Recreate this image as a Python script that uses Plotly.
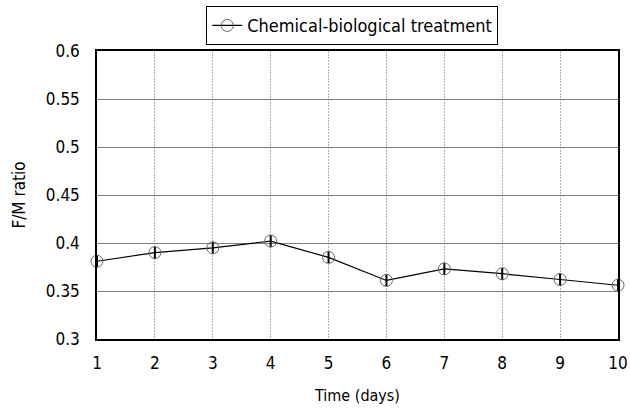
import plotly.graph_objects as go

days = [1, 2, 3, 4, 5, 6, 7, 8, 9, 10]
fm_ratio = [0.381, 0.390, 0.395, 0.402, 0.385, 0.361, 0.373, 0.368, 0.362, 0.356]
series_name = "Chemical-biological treatment"
y_ticks = [0.3, 0.35, 0.4, 0.45, 0.5, 0.55, 0.6]
y_ticklabels = ["0.3", "0.35", "0.4", "0.45", "0.5", "0.55", "0.6"]

FONT = "DejaVu Sans Condensed, DejaVu Sans, Arial"

fig = go.Figure()
fig.add_trace(go.Scatter(
    x=days, y=fm_ratio, mode="lines+markers", name=series_name,
    line=dict(color="black", width=1.2),
    marker=dict(symbol="circle-open", size=12, color="#666666", line=dict(width=1, color="#666666")),
))
fig.add_trace(go.Scatter(
    x=days, y=fm_ratio, mode="markers", showlegend=False, hoverinfo="skip",
    marker=dict(symbol="line-ns-open", size=8, color="black", line=dict(width=2, color="black")),
))

fig.update_layout(
    width=630, height=408,
    margin=dict(l=97, r=12, t=51, b=69, autoexpand=False),
    paper_bgcolor="white", plot_bgcolor="white",
    font=dict(family=FONT, size=17, color="black"),
    showlegend=True,
    legend=dict(x=0.49, y=1.02, xanchor="center", yanchor="bottom", orientation="h",
                bordercolor="black", borderwidth=1, bgcolor="white",
                font=dict(family=FONT, size=18), itemwidth=30,
                tracegroupgap=0),
    xaxis=dict(range=[1, 10], tickvals=days, ticks="outside", ticklen=8,
               tickcolor="rgba(0,0,0,0)", showline=True, mirror=True,
               linecolor="black", linewidth=1.5, showgrid=True, gridcolor="#b0b0b0",
               griddash="2px,1px", gridwidth=1, zeroline=False,
               ticklabeloverflow="allow",
               title=dict(text="Time (days)", font=dict(size=16), standoff=18),
               tickfont=dict(size=17)),
    yaxis=dict(range=[0.3, 0.6], tickvals=y_ticks, ticktext=y_ticklabels,
               ticks="outside", ticklen=12, tickcolor="rgba(0,0,0,0)",
               showline=True, mirror=True, linecolor="black", linewidth=1.5,
               showgrid=True, gridcolor="#808080", gridwidth=1,
               zeroline=False,
               title=dict(text="F/M ratio", font=dict(size=17), standoff=16),
               tickfont=dict(size=17)),
)
fig.update_traces(cliponaxis=False)

fig.write_html("out.html")
